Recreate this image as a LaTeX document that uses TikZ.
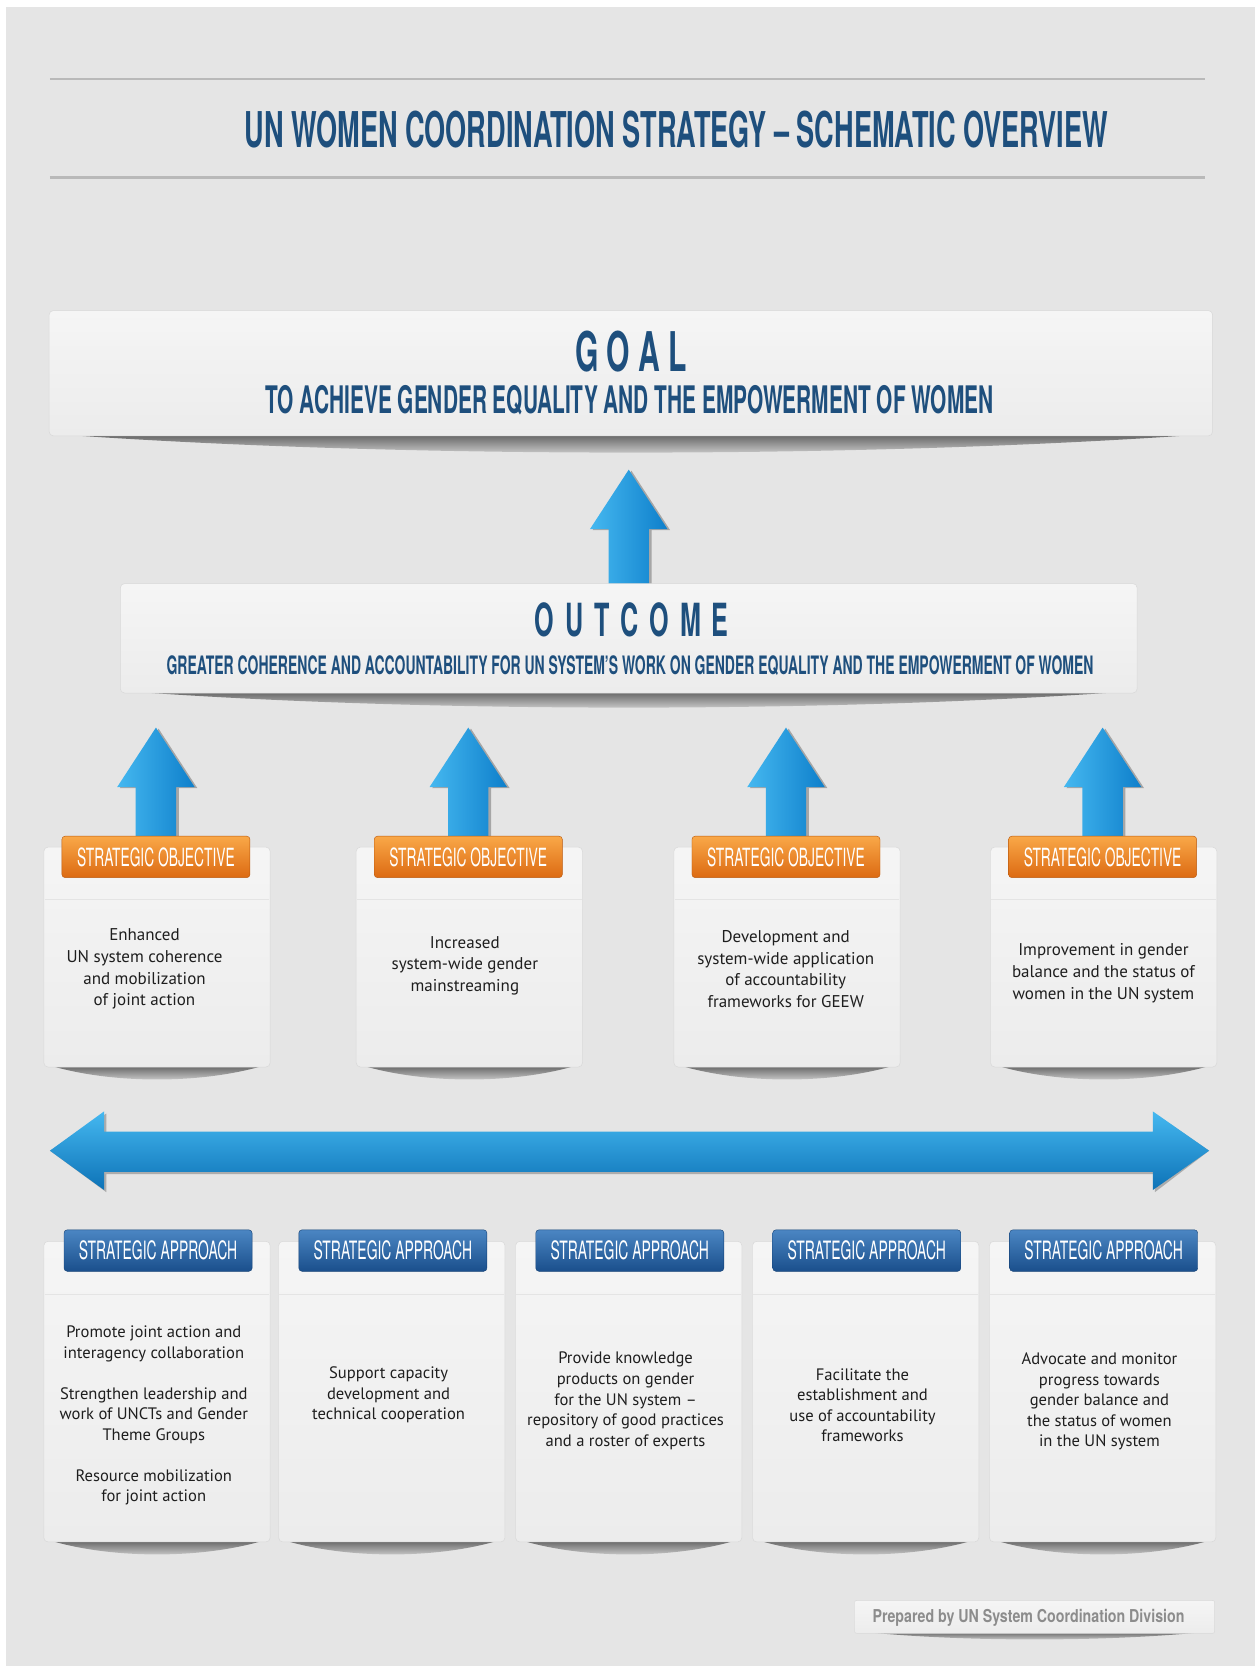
\documentclass[tikz,border=0pt]{standalone}
\usepackage{fontspec}
\setmainfont{PT Sans}
\newfontfamily\headfont[FakeStretch=0.55]{TeX Gyre Heros}
\newfontfamily\footfont[FakeStretch=0.8]{TeX Gyre Heros}
\usetikzlibrary{positioning,calc}

\definecolor{pagegray}{HTML}{E5E5E5}
\definecolor{unblue}{HTML}{1E4F7D}
\definecolor{rulegray}{HTML}{B9B9B9}
\definecolor{cardtop}{HTML}{F5F5F5}
\definecolor{cardbot}{HTML}{ECECEC}
\definecolor{cardedge}{HTML}{D9D9D9}
\definecolor{tagorangetop}{HTML}{F9A848}
\definecolor{tagorangebot}{HTML}{DC6A12}
\definecolor{tagbluetop}{HTML}{4B86C3}
\definecolor{tagbluebot}{HTML}{1A4F8C}
\definecolor{arrowlight}{HTML}{45B8F0}
\definecolor{arrowdark}{HTML}{0E7FCB}
\definecolor{bodyink}{HTML}{1E1E1E}
\definecolor{footink}{HTML}{8C8C8C}

\pgfdeclarelayer{backdrop}
\pgfdeclarelayer{behind}
\pgfsetlayers{backdrop,behind,main}

% curved shadow under a box
\newcommand{\dropshadow}[2][12]{%
	\shade[top color=black!62, bottom color=pagegray]
		($(#2.south west)+(5,-2)$) .. controls ($(#2.south west)!0.3!(#2.south east)+(0,{#1*1.33})$)
		and ($(#2.south west)!0.7!(#2.south east)+(0,{#1*1.33})$) .. ($(#2.south east)+(-5,-2)$) -- cycle;}

\tikzset{
	box/.style={rectangle, rounded corners=4pt, top color=cardtop, bottom color=cardbot, draw=cardedge, line width=0.5pt, anchor=north west, inner sep=0pt},
	objcard/.style={box, minimum width=213pt, minimum height=207pt},
	appcard/.style={box, minimum width=213pt, minimum height=283pt},
	tag/.style={rectangle, rounded corners=3pt, minimum width=177pt, minimum height=39pt, inner sep=0pt, text=white},
	objtag/.style={tag, top color=tagorangetop, bottom color=tagorangebot, draw=tagorangebot!85!black, font=\headfont\fontsize{23.6}{24}\selectfont},
	apptag/.style={tag, top color=tagbluetop, bottom color=tagbluebot, draw=tagbluebot!85!black, font=\headfont\fontsize{23.8}{24}\selectfont},
	objtext/.style={align=center, text=bodyink, font=\fontsize{16}{20.5}\selectfont},
	apptext/.style={align=center, text=bodyink, font=\fontsize{15.6}{19.4}\selectfont},
	headline/.style={text=unblue, inner sep=0pt, anchor=base},
	arrow length/.store in=\arrlen, arrow length=102,
	uparrow/.pic={
		\fill[gray!70, shift={(2.5,1)}] (-19,4) -- (-19,{-\arrlen+56}) -- (-36.5,{-\arrlen+56}) -- (0,{-\arrlen}) -- (36.5,{-\arrlen+56}) -- (19,{-\arrlen+56}) -- (19,4) -- cycle;
		\shade[left color=arrowlight, right color=arrowdark] (-19,4) -- (-19,{-\arrlen+56}) -- (-36.5,{-\arrlen+56}) -- (0,{-\arrlen}) -- (36.5,{-\arrlen+56}) -- (19,{-\arrlen+56}) -- (19,4) -- cycle;
	},
}

\begin{document}
\begin{tikzpicture}[x=1pt, y=-1pt]
	\useasboundingbox (0,0) rectangle (1181,1568);
	\begin{pgfonlayer}{backdrop}
		\fill[white] (0,0) rectangle (1181,1568);
		\fill[pagegray] (6,7) rectangle (1181,1568);
	\end{pgfonlayer}

	% title
	\draw[rulegray, line width=2pt] (47,74) -- (1134,74);
	\draw[rulegray, line width=2pt] (47,167) -- (1134,167);
	\node[headline, font=\headfont\bfseries\fontsize{46.4}{48}\selectfont] (title) at (636.5,139) {UN WOMEN COORDINATION STRATEGY – SCHEMATIC OVERVIEW};

	% goal
	\node[box, minimum width=1095pt, minimum height=118pt] (goal) at (46,292) {};
	\node[headline, font=\headfont\bfseries\fontsize{51.5}{52}\selectfont] (goalhead) at (594,350) {G\hspace{7.7pt}O\hspace{7.7pt}A\hspace{7.7pt}L};
	\node[headline, font=\headfont\bfseries\fontsize{35.7}{36}\selectfont] (goaltext) at (592.5,389) {TO ACHIEVE GENDER EQUALITY AND THE EMPOWERMENT OF WOMEN};

	% outcome
	\node[box, minimum width=957pt, minimum height=103pt] (outcome) at (113,549) {};
	\node[headline, font=\headfont\bfseries\fontsize{43}{44}\selectfont] (outcomehead) at (594.5,599) {O\hspace{10.3pt}U\hspace{10.3pt}T\hspace{10.3pt}C\hspace{10.3pt}O\hspace{10.3pt}M\hspace{10.3pt}E};
	\node[headline, font=\headfont\bfseries\fontsize{23.9}{24}\selectfont] (outcometext) at (593,635) {GREATER COHERENCE AND ACCOUNTABILITY FOR UN SYSTEM’S WORK ON GENDER EQUALITY AND THE EMPOWERMENT OF WOMEN};

	\begin{pgfonlayer}{behind}
		\dropshadow[16]{goal}
		\dropshadow[14]{outcome}
		\pic[arrow length=107] at (outcome.north) {uparrow};
	\end{pgfonlayer}

	% strategic objectives
	\foreach \x/\i/\tx/\ty/\txt in {
		41/1/136/912/{Enhanced\\UN system coherence\\and mobilization\\of joint action},
		335/2/437.5/909/{Increased\\system-wide gender\\mainstreaming},
		634/3/739.5/912/{Development and\\system-wide application\\of accountability\\frameworks for GEEW},
		932/4/1038.5/916/{Improvement in gender\\balance and the status of\\women in the UN system}}{
		\node[objcard] (obj\i) at (\x,797) {};
		\draw[cardedge!60!cardtop] ($(obj\i.north west)+(1,49)$) -- ($(obj\i.north east)+(-1,49)$);
		\node[objtag] (objtag\i) at ($(obj\i.north)+(-1,9.5)$) {STRATEGIC OBJECTIVE};
		\node[objtext] (objtext\i) at (\tx,\ty) {\txt};
		\begin{pgfonlayer}{behind}
			\dropshadow{obj\i}
			\pic at (objtag\i.north) {uparrow};
		\end{pgfonlayer}
	}

	% double arrow
	\coordinate (leftend) at (47,1083);
	\coordinate (rightend) at (1138,1083);
	\fill[gray!65, shift={(2,2)}] (leftend) -- (98,1046) -- (98,1065) -- (1085,1065) -- (1085,1046) -- (rightend) -- (1085,1120) -- (1085,1103) -- (98,1103) -- (98,1120) -- cycle;
	\shade[top color=arrowlight, bottom color=arrowdark!90!black] (leftend) -- (98,1046) -- (98,1065) -- (1085,1065) -- (1085,1046) -- (rightend) -- (1085,1120) -- (1085,1103) -- (98,1103) -- (98,1120) -- cycle;

	% strategic approaches
	\foreach \x/\i/\ty/\txt in {
		41/1/1332.5/{Promote joint action and\\interagency collaboration\\[19pt]Strengthen leadership and\\work of UNCTs and Gender\\Theme Groups\\[19pt]Resource mobilization\\for joint action},
		262/2/1313/{Support capacity\\development and\\technical cooperation},
		485/3/1318.5/{Provide knowledge\\products on gender\\for the UN system –\\repository of good practices\\and a roster of experts},
		708/4/1322.5/{Facilitate the\\establishment and\\use of accountability\\frameworks},
		931/5/1319/{Advocate and monitor\\progress towards\\gender balance and\\the status of women\\in the UN system}}{
		\node[appcard] (app\i) at (\x,1168) {};
		\draw[cardedge!60!cardtop] ($(app\i.north west)+(1,50)$) -- ($(app\i.north east)+(-1,50)$);
		\node[apptag] (apptag\i) at ($(app\i.north)+(1,9)$) {STRATEGIC APPROACH};
		\node[apptext] (apptext\i) at ($(app\i.north)+(-3,{\ty-1168})$) {\txt};
		\begin{pgfonlayer}{behind}
			\dropshadow{app\i}
		\end{pgfonlayer}
	}

	% footer
	\node[box, rounded corners=2pt, minimum width=339pt, minimum height=31pt] (footer) at (804,1506) {};
	\node[anchor=base, inner sep=0pt, text=footink, font=\footfont\bfseries\fontsize{16.7}{17}\selectfont] (footnote) at (968,1527) {Prepared by UN System Coordination Division};
	\begin{pgfonlayer}{behind}
		\dropshadow[6]{footer}
	\end{pgfonlayer}
\end{tikzpicture}
\end{document}
